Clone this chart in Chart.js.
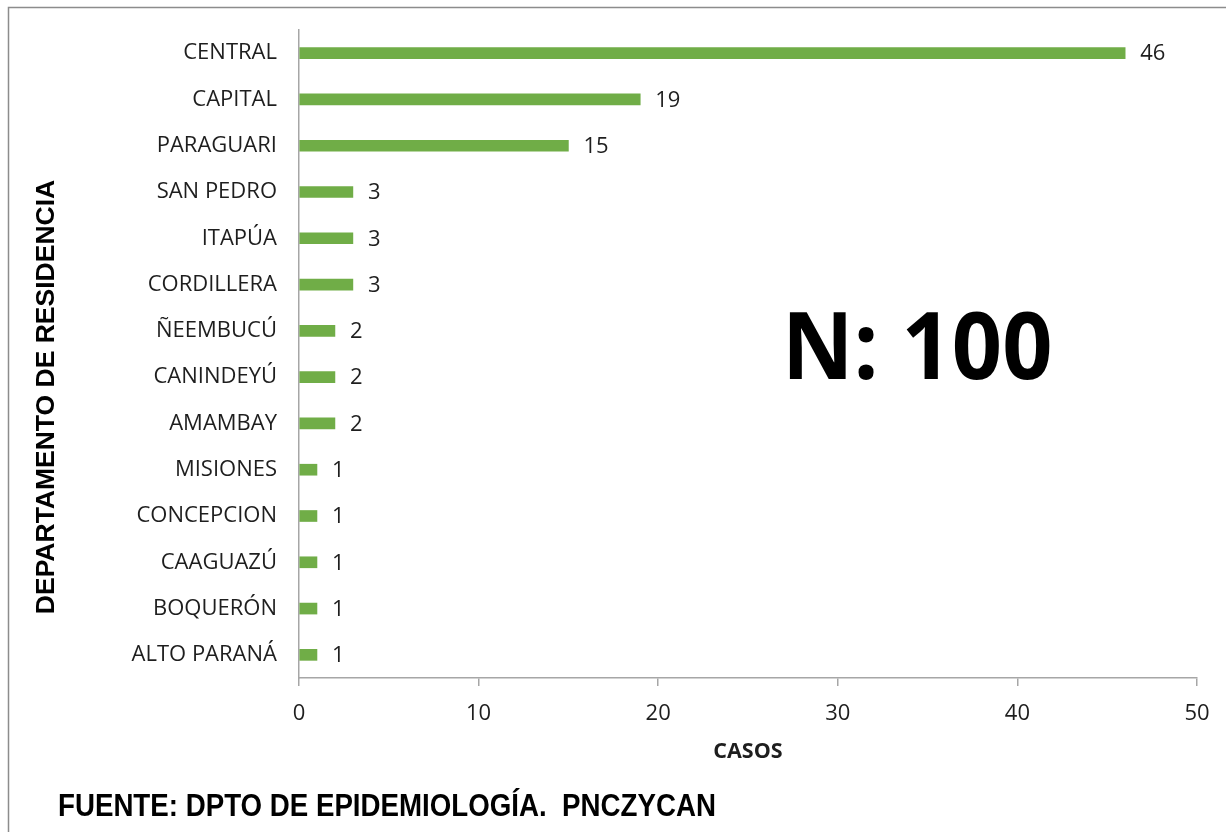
<!DOCTYPE html>
<html>
<head>
<meta charset="utf-8">
<script src="https://cdn.jsdelivr.net/npm/chart.js@4.4.1/dist/chart.umd.min.js"></script>
<style>
html,body{margin:0;padding:0;background:#fff;}
#wrap{position:relative;width:1226px;height:832px;}
canvas{display:block;}
</style>
</head>
<body>
<div id="wrap"><canvas id="c" width="1226" height="832"></canvas></div>
<script>
const categories = ["CENTRAL","CAPITAL","PARAGUARI","SAN PEDRO","ITAPÚA","CORDILLERA","ÑEEMBUCÚ","CANINDEYÚ","AMAMBAY","MISIONES","CONCEPCION","CAAGUAZÚ","BOQUERÓN","ALTO PARANÁ"];
const casos = [46,19,15,3,3,3,2,2,2,1,1,1,1,1];
const xTickValues = [0,10,20,30,40,50];
const yAxisTitle = "DEPARTAMENTO DE RESIDENCIA";
const xAxisTitle = "CASOS";
const bigLabel = "N: 100";
const footer = "FUENTE: DPTO DE EPIDEMIOLOGÍA.  PNCZYCAN";

const barColor = "#70AD47";
const textColor = "#1e1e1e";
const axisColor = "#A6A6A6";

const decor = {
  id: "decor",
  beforeDraw(chart) {
    const ctx = chart.ctx;
    ctx.save();
    ctx.fillStyle = "#fff";
    ctx.fillRect(0, 0, chart.width, chart.height);
    ctx.strokeStyle = "#8c8c8c";
    ctx.lineWidth = 1.5;
    ctx.beginPath();
    ctx.moveTo(8.5, 832);
    ctx.lineTo(8.5, 7.5);
    ctx.lineTo(1226, 7.5);
    ctx.stroke();
    ctx.restore();
  },
  afterDraw(chart) {
    const ctx = chart.ctx;
    const xs = chart.scales.x;
    ctx.save();
    // data labels
    ctx.fillStyle = textColor;
    ctx.font = "22px 'Open Sans'";
    ctx.textAlign = "left";
    ctx.textBaseline = "middle";
    const meta = chart.getDatasetMeta(0);
    meta.data.forEach((bar, i) => {
      ctx.fillText(String(casos[i]), bar.x + 15, bar.y + 1);
    });
    // x axis title
    ctx.font = "bold 21.5px 'Open Sans'";
    ctx.textAlign = "center";
    ctx.textBaseline = "middle";
    ctx.fillText(xAxisTitle, (xs.left + xs.right) / 2, 752);
    // y axis title
    ctx.save();
    ctx.translate(47, 397);
    ctx.rotate(-Math.PI / 2);
    ctx.font = "bold 26.5px 'Liberation Sans'";
    ctx.fillStyle = "#000";
    ctx.textAlign = "center";
    ctx.textBaseline = "middle";
    ctx.fillText(yAxisTitle, 0, 0);
    ctx.restore();
    // N: 100
    ctx.save();
    ctx.fillStyle = "#000";
    ctx.translate(782, 379);
    ctx.scale(1, 1.05);
    ctx.font = "bold 88px 'Open Sans'";
    ctx.textAlign = "left";
    ctx.textBaseline = "alphabetic";
    ctx.fillText(bigLabel, 0, 0);
    ctx.restore();
    // footer
    ctx.save();
    ctx.fillStyle = "#000";
    ctx.translate(58, 816);
    ctx.scale(1, 1.15);
    ctx.font = "bold 27.7px 'Liberation Sans'";
    ctx.textAlign = "left";
    ctx.textBaseline = "alphabetic";
    ctx.fillText(footer, 0, 0);
    ctx.restore();
    ctx.restore();
  }
};

new Chart(document.getElementById("c"), {
  type: "bar",
  data: {
    labels: categories,
    datasets: [{
      data: casos,
      backgroundColor: barColor,
      borderWidth: 0,
      barThickness: 11
    }]
  },
  options: {
    indexAxis: "y",
    responsive: false,
    animation: false,
    devicePixelRatio: 1,
    layout: { padding: { top: 30, right: 29, bottom: 74, left: 0 } },
    plugins: { legend: { display: false }, tooltip: { enabled: false } },
    scales: {
      x: {
        min: 0, max: 50,
        afterBuildTicks(scale) { scale.ticks = xTickValues.map(v => ({ value: v })); },
        afterFit(scale) { scale.height = 80; },
        grid: { drawOnChartArea: false, drawTicks: true, tickLength: 8, color: axisColor, lineWidth: 1.5 },
        border: { display: true, color: axisColor, width: 1.5 },
        ticks: { font: { family: "'Open Sans'", size: 22 }, color: textColor, padding: 15, maxRotation: 0 }
      },
      y: {
        afterFit(scale) { scale.width = 299; scale.paddingTop = 0; scale.paddingBottom = 0; },
        grid: { drawOnChartArea: false, drawTicks: false, color: axisColor },
        border: { display: true, color: axisColor, width: 1.5 },
        ticks: { font: { family: "'Open Sans'", size: 22 }, color: textColor, padding: 22, autoSkip: false }
      }
    }
  },
  plugins: [decor]
});
</script>
</body>
</html>
